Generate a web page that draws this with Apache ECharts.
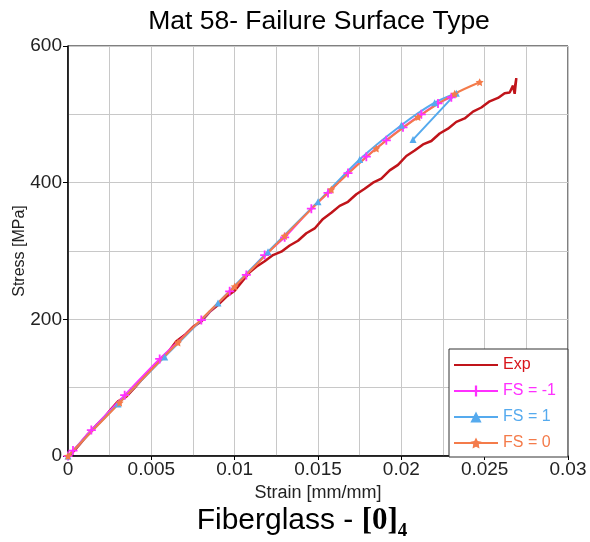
<!DOCTYPE html>
<html>
<head>
<meta charset="utf-8">
<script src="https://cdn.jsdelivr.net/npm/echarts@6/dist/echarts.min.js"></script>
<style>
    html, body { margin: 0; padding: 0; background: #fff; }
    #chart { width: 590px; height: 542px; }
</style>
</head>
<body>
<div id="chart"></div>
<script>
const expStrain = [0, 0.0003, 0.0007, 0.0012, 0.0017, 0.0022, 0.0026, 0.0030, 0.0035, 0.0040,
    0.0045, 0.0050, 0.0055, 0.0060, 0.0065, 0.0070, 0.0075, 0.0080, 0.0085, 0.0090,
    0.0095, 0.0100, 0.0105, 0.0109, 0.0113, 0.0118, 0.0123, 0.0128, 0.0133, 0.0138,
    0.0143, 0.0148, 0.0153, 0.0158, 0.0163, 0.0168, 0.0173, 0.0178, 0.0183, 0.0188,
    0.0193, 0.0198, 0.0203, 0.0208, 0.0213, 0.0218, 0.0223, 0.0228, 0.0233, 0.0238,
    0.0243, 0.0248, 0.0253, 0.0258, 0.0262, 0.0265, 0.0267, 0.0268, 0.0269, 0.0268];
const expStress = [0, 6, 17, 32, 45, 57, 69, 80, 87, 100,
    114, 127, 141, 152, 168, 177, 189, 197, 211, 221,
    233, 242, 257, 269, 277, 285, 294, 299, 308, 315,
    326, 333, 347, 356, 366, 372, 383, 391, 400, 406,
    418, 426, 439, 447, 456, 461, 472, 479, 489, 494,
    504, 510, 519, 524, 531, 532, 542, 530, 553, 538];

// FS = -1
const fsNeg1Strain = [0, 0.0003, 0.0014, 0.0034, 0.0055, 0.0080, 0.0097, 0.0107, 0.0118, 0.0130,
    0.0146, 0.0156, 0.0168, 0.0179, 0.0191, 0.0201, 0.0212, 0.0222, 0.0230];
const fsNeg1Stress = [0, 8, 38, 89, 142, 199, 241, 265, 294, 320,
    362, 385, 414, 438, 462, 481, 500, 516, 525];

// FS = 1 (last point is the drop after failure)
const fs1Strain = [0, 0.0030, 0.0058, 0.0090, 0.0120, 0.0150, 0.0175, 0.0200, 0.0220, 0.0233, 0.0207];
const fs1Stress = [0, 76, 145, 224, 299, 372, 434, 484, 517, 531, 463];

// FS = 0
const fs0Strain = [0, 0.0031, 0.0066, 0.0100, 0.0130, 0.0158, 0.0185, 0.0210, 0.0232, 0.0247];
const fs0Stress = [0, 78, 166, 248, 322, 390, 450, 496, 530, 547];

const xTickLabels = ['0', '0.005', '0.01', '0.015', '0.02', '0.025', '0.03'];
const yTickLabels = ['0', '200', '400', '600'];

const FONT = 'Liberation Sans, Arial, sans-serif';
const SERIF = 'Liberation Serif, Times New Roman, serif';

function zip(xs, ys) {
    return xs.map(function (x, i) { return [x, ys[i]]; });
}

const starPath = 'path://M0,-10L2.9,-4L9.5,-3.1L4.7,1.5L5.9,8.1L0,5L-5.9,8.1L-4.7,1.5L-9.5,-3.1L-2.9,-4Z';
const plusPath = 'path://M-1.2,-6H1.2V-1.2H6V1.2H1.2V6H-1.2V1.2H-6V-1.2H-1.2Z';
const linePath = 'path://M0,0H44V2H0Z';

let myChart = echarts.init(document.getElementById('chart'));

myChart.setOption({
    animation: false,
    backgroundColor: '#fff',
    graphic: [
        {
            type: 'text', x: 319, y: 22,
            style: {
                text: 'Mat 58- Failure Surface Type',
                font: '26.5px ' + FONT, fill: '#000',
                align: 'center', verticalAlign: 'middle'
            }
        },
        {
            type: 'text', x: 302, y: 521,
            style: {
                text: '{a|Fiberglass - }{b|[0]}{c|4}',
                align: 'center', verticalAlign: 'middle',
                rich: {
                    a: { fontSize: 30, fontFamily: FONT, fill: '#000', color: '#000' },
                    b: { fontSize: 31, fontFamily: SERIF, fontWeight: 'bold', fill: '#000', color: '#000' },
                    c: { fontSize: 19, fontFamily: SERIF, fontWeight: 'bold', fill: '#000', color: '#000', padding: [20, 0, 0, 0] }
                }
            }
        }
    ],
    grid: {
        left: 68, right: 22, top: 46, bottom: 86,
        outerBoundsMode: 'none',
        show: true, borderColor: '#000', borderWidth: 1
    },
    legend: {
        orient: 'vertical',
        left: 449, top: 349,
        padding: [8, 12, 6, 4],
        itemWidth: 44, itemHeight: 14, itemGap: 10,
        backgroundColor: '#fff',
        borderColor: '#333', borderWidth: 1,
        textStyle: { fontSize: 16, fontFamily: FONT },
        data: [
            { name: 'Exp', icon: linePath, textStyle: { color: '#d8141a' } },
            { name: 'FS = -1', textStyle: { color: '#ff30ff' } },
            { name: 'FS = 1', textStyle: { color: '#55aaee' } },
            { name: 'FS = 0', textStyle: { color: '#f47b4a' } }
        ]
    },
    xAxis: {
        type: 'value', min: 0, max: 0.03, interval: 0.005,
        name: 'Strain [mm/mm]', nameLocation: 'middle', nameGap: 27,
        nameTextStyle: { fontSize: 18, fontFamily: FONT, color: '#222' },
        axisLine: { show: true, lineStyle: { color: '#000', width: 1.5 } },
        axisTick: { show: true, length: 4, lineStyle: { color: '#000' } },
        axisLabel: {
            fontSize: 19, fontFamily: FONT, color: '#222', margin: 4,
            formatter: function (v) { return xTickLabels[Math.round(v / 0.005)]; }
        },
        splitLine: { show: true, lineStyle: { color: '#c8c8c8', width: 1 } },
        minorTick: { show: false, splitNumber: 2 },
        minorSplitLine: { show: true, lineStyle: { color: '#c8c8c8', width: 1 } }
    },
    yAxis: {
        type: 'value', min: 0, max: 600, interval: 200,
        name: 'Stress [MPa]', nameLocation: 'middle', nameGap: 40,
        nameMoveOverlap: false,
        nameTextStyle: { fontSize: 16, fontFamily: FONT, color: '#222' },
        axisLine: { show: true, lineStyle: { color: '#000', width: 1.5 } },
        axisTick: { show: true, length: 5, lineStyle: { color: '#000' } },
        axisLabel: {
            fontSize: 19, fontFamily: FONT, color: '#222', margin: 6,
            formatter: function (v) { return yTickLabels[Math.round(v / 200)]; }
        },
        splitLine: { show: true, lineStyle: { color: '#c8c8c8', width: 1 } },
        minorTick: { show: false, splitNumber: 2 },
        minorSplitLine: { show: true, lineStyle: { color: '#c8c8c8', width: 1 } }
    },
    series: [
        {
            name: 'Exp', type: 'line', symbol: 'none',
            data: zip(expStrain, expStress),
            lineStyle: { color: '#c0141a', width: 2.5 },
            itemStyle: { color: '#c0141a' }
        },
        {
            name: 'FS = -1', type: 'line', smooth: 0.3,
            symbol: plusPath, symbolSize: 9,
            data: zip(fsNeg1Strain, fsNeg1Stress),
            lineStyle: { color: '#ff30ff', width: 2 },
            itemStyle: { color: '#ff30ff' }
        },
        {
            name: 'FS = 1', type: 'line', smooth: 0.3,
            symbol: 'triangle', symbolSize: 7,
            data: zip(fs1Strain, fs1Stress),
            lineStyle: { color: '#55aaee', width: 2 },
            itemStyle: { color: '#55aaee' }
        },
        {
            name: 'FS = 0', type: 'line', smooth: 0.3,
            symbol: starPath, symbolSize: 8,
            data: zip(fs0Strain, fs0Stress),
            lineStyle: { color: '#f47b4a', width: 2 },
            itemStyle: { color: '#f47b4a' }
        }
    ]
});
</script>
</body>
</html>
